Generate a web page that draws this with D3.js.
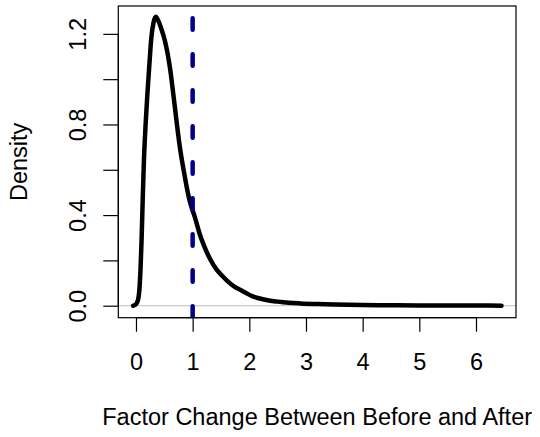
<!DOCTYPE html>
<html>
<head>
<meta charset="utf-8">
<script src="https://cdn.jsdelivr.net/npm/d3@7"></script>
<style>
  html, body { margin: 0; padding: 0; background: #fff; }
  text { font-family: "Liberation Sans", Arial, Helvetica, sans-serif; }
</style>
</head>
<body>
<svg id="chart" width="540" height="437"></svg>
<script>
// ---- data ----
const densX = [-0.05, -0.02, 0.02, 0.04, 0.06, 0.08, 0.10, 0.12, 0.14, 0.17, 0.20, 0.235, 0.27, 0.31, 0.35,
  0.39, 0.45, 0.51, 0.60, 0.67, 0.78, 0.84, 0.94, 1.00, 1.04, 1.12, 1.20, 1.31, 1.42, 1.53, 1.63, 1.73, 1.84,
  1.95, 2.05, 2.15, 2.30, 2.50, 2.70, 2.90, 3.20, 3.50, 4.00, 4.50, 5.00, 5.50, 6.00, 6.45];
const densY = [0.0, 0.003, 0.015, 0.03, 0.07, 0.16, 0.30, 0.48, 0.64, 0.80, 0.93, 1.06, 1.18, 1.25, 1.275,
  1.26, 1.22, 1.17, 1.05, 0.91, 0.69, 0.60, 0.47, 0.42, 0.39, 0.32, 0.265, 0.205, 0.16, 0.13, 0.105, 0.085, 0.07,
  0.055, 0.042, 0.034, 0.025, 0.018, 0.013, 0.010, 0.007, 0.005, 0.003, 0.002, 0.001, 0.0008, 0.0005, 0.0003];
const refLineX = [1];
const xTicks = [0, 1, 2, 3, 4, 5, 6];
const yTicks = [0.0, 0.2, 0.4, 0.6, 0.8, 1.0, 1.2];
const yTickLabels = ["0.0", "", "0.4", "", "0.8", "", "1.2"];
const xLabel = "Factor Change Between Before and After";
const yLabel = "Density";

// ---- layout ----
const L = 118.3, R = 516, T = 6, B = 317.7;
const fontSize = 23.5;

const x = d3.scaleLinear().domain([-0.312, 6.706]).range([L, R]);
const y = d3.scaleLinear().domain([-0.053, 1.323]).range([B, T]);

const svg = d3.select("#chart");

svg.append("defs").append("clipPath").attr("id", "plotclip")
  .append("rect").attr("x", L).attr("y", T).attr("width", R - L).attr("height", B - T);

const plot = svg.append("g").attr("clip-path", "url(#plotclip)");

// zero line
plot.append("line")
  .attr("x1", L).attr("x2", R)
  .attr("y1", y(0)).attr("y2", y(0))
  .attr("stroke", "#BEBEBE").attr("stroke-width", 1);

// density curve
const pts = densX.map((d, i) => [d, densY[i]]);
plot.append("path")
  .datum(pts)
  .attr("d", d3.line().x(d => x(d[0])).y(d => y(d[1])).curve(d3.curveMonotoneX))
  .attr("fill", "none")
  .attr("stroke", "#000")
  .attr("stroke-width", 4.5)
  .attr("stroke-linecap", "round")
  .attr("stroke-linejoin", "round");

// reference line
plot.selectAll("line.ref").data(refLineX).enter().append("line")
  .attr("class", "ref")
  .attr("x1", d => x(d)).attr("x2", d => x(d))
  .attr("y1", B).attr("y2", T)
  .attr("stroke", "#00008B")
  .attr("stroke-width", 4.5)
  .attr("stroke-dasharray", "11.5,24.5")
  .attr("stroke-linecap", "round");

// box
svg.append("rect")
  .attr("x", L).attr("y", T).attr("width", R - L).attr("height", B - T)
  .attr("fill", "none").attr("stroke", "#000").attr("stroke-width", 1.2);

// x axis
const xAxis = d3.axisBottom(x).tickValues(xTicks).tickSize(14).tickPadding(20)
  .tickFormat(d3.format("d"));
const gx = svg.append("g").attr("transform", `translate(0,${B})`).call(xAxis);
gx.select(".domain").attr("d", `M${x(xTicks[0])},0H${x(xTicks[xTicks.length - 1])}`).attr("stroke-width", 1.2);
gx.selectAll(".tick line").attr("stroke-width", 1.2);
gx.selectAll(".tick text").attr("font-size", fontSize).attr("fill", "#000")
  .attr("font-family", '"Liberation Sans", Arial, sans-serif')
  .attr("dy", null).attr("y", 52);

// y axis
const yAxis = d3.axisLeft(y).tickValues(yTicks).tickSize(15)
  .tickFormat((d, i) => yTickLabels[i]);
const gy = svg.append("g").attr("transform", `translate(${L},0)`).call(yAxis);
gy.select(".domain").attr("d", `M0,${y(yTicks[0])}V${y(yTicks[yTicks.length - 1])}`).attr("stroke-width", 1.2);
gy.selectAll(".tick line").attr("stroke-width", 1.2);
gy.selectAll(".tick text")
  .attr("font-size", fontSize).attr("fill", "#000")
  .attr("font-family", '"Liberation Sans", Arial, sans-serif')
  .attr("x", null).attr("dy", null)
  .attr("text-anchor", "middle")
  .attr("transform", `translate(${86 - L},0) rotate(-90)`);

// axis titles
svg.append("text")
  .attr("x", (L + R) / 2).attr("y", 425)
  .attr("text-anchor", "middle").attr("font-size", fontSize).attr("fill", "#000")
  .text(xLabel);

svg.append("text")
  .attr("transform", `translate(27,${(T + B) / 2}) rotate(-90)`)
  .attr("text-anchor", "middle").attr("font-size", fontSize).attr("fill", "#000")
  .text(yLabel);
</script>
</body>
</html>
